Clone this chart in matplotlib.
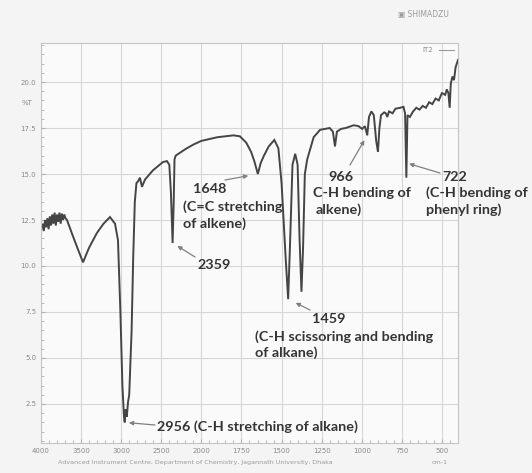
import numpy as np
import matplotlib
matplotlib.use("Agg")
import matplotlib.pyplot as plt
from matplotlib.ticker import FixedLocator, FormatStrFormatter

# FTIR spectrum (wavenumber in cm-1, transmittance in %T)
wavenumber = [
    4000, 3980, 3965, 3950, 3935, 3920, 3905, 3890, 3875, 3860, 3845, 3830,
    3815, 3800, 3785, 3770, 3755, 3740, 3725, 3710, 3695, 3676,
    3600, 3530, 3476, 3400, 3302, 3220, 3140, 3077, 3040,
    3010, 2985, 2965, 2956, 2945, 2930, 2915, 2900, 2870, 2850, 2830, 2810,
    2790, 2766, 2741, 2703, 2604, 2479, 2429, 2400, 2380, 2359, 2345, 2335,
    2320, 2200, 2100, 2000, 1900, 1800, 1760, 1720, 1690, 1670, 1648, 1630,
    1610, 1580, 1545, 1520, 1500, 1475, 1459, 1448, 1432, 1415, 1400, 1388,
    1376, 1366, 1355, 1340, 1300, 1260, 1200, 1180, 1167, 1155, 1130, 1100,
    1050, 1020, 998, 980, 966, 955, 940, 925, 910, 899, 890, 880, 860, 850,
    841, 830, 808, 790, 760, 740, 730, 722, 715, 700, 680, 660, 640, 620,
    600, 580, 560, 540, 520, 500, 480, 470, 460, 452, 445, 435, 425, 415, 400,
]
transmittance = [
    12.0, 12.3, 11.9, 12.5, 12.1, 12.6, 12.0, 12.7, 12.2, 12.8, 12.3, 12.9,
    12.2, 12.8, 12.4, 12.9, 12.3, 12.85, 12.5, 12.8, 12.6, 12.5,
    11.6, 10.8, 10.2, 11.0, 11.8, 12.3, 12.66, 12.3, 11.4,
    7.5, 3.5, 1.8, 1.5, 2.2, 1.8, 2.6, 3.0, 6.5, 10.5, 13.5, 14.5,
    14.6, 14.8, 14.3, 14.7, 15.2, 15.65, 15.7, 15.5, 14.0, 11.25, 13.5, 15.8,
    16.0, 16.35, 16.6, 16.8, 17.0, 17.1, 17.05, 16.7, 16.2, 15.7, 15.0, 15.6,
    16.0, 16.5, 16.85, 16.4, 14.5, 10.5, 8.2, 11.0, 15.5, 16.1, 15.5, 11.5,
    8.6, 11.0, 15.0, 15.8, 17.0, 17.4, 17.5, 17.3, 16.5, 17.3, 17.45, 17.5,
    17.65, 17.6, 17.45, 17.6, 17.1, 18.1, 18.4, 18.2, 16.8, 16.2, 17.5, 18.2,
    18.35, 18.3, 18.1, 18.4, 18.3, 18.55, 18.6, 18.65, 18.3, 14.8, 18.2, 18.1,
    18.4, 18.6, 18.5, 18.7, 18.6, 18.9, 18.8, 19.1, 19.0, 19.4, 19.3, 19.6,
    19.4, 18.6, 19.9, 20.3, 20.1, 20.8, 21.2,
]

x_ticks = [4000, 3500, 3000, 2500, 2000, 1750, 1500, 1250, 1000, 750, 500]
y_ticks = [2.5, 5.0, 7.5, 10.0, 12.5, 15.0, 17.5, 20.0]

# points the peak annotations aim at (wavenumber, %T)
peak_wn = [1648, 2359, 2956, 1459, 966, 722]
peak_t = [15.0, 11.25, 1.5, 8.2, 17.1, 15.6]


def _fwd(w):
    w = np.asarray(w, dtype=float)
    return np.where(w >= 2000, w / 500.0, 4.0 - (2000.0 - w) / 250.0)


def _inv(u):
    u = np.asarray(u, dtype=float)
    return np.where(u >= 4, u * 500.0, 2000.0 - (4.0 - u) * 250.0)


W, H = 532, 473
fig = plt.figure(figsize=(W / 100, H / 100), dpi=100, facecolor="#f4f4f4")
ax = fig.add_axes([41 / W, 1 - 443 / H, (458 - 41) / W, (443 - 43) / H])
ax.set_facecolor("#fafafb")

ax.set_xscale("function", functions=(_fwd, _inv))
ax.set_xlim(4000, 400)
ax.set_ylim(0.38, 22.12)

ax.plot(wavenumber, transmittance, color="#454545", lw=1.4, label="IT2",
        solid_joinstyle="miter")

ax.xaxis.set_major_locator(FixedLocator(x_ticks))
minor_x = list(range(4000, 2000, -100)) + list(range(2000, 399, -50))
ax.xaxis.set_minor_locator(FixedLocator(minor_x))
ax.yaxis.set_major_locator(FixedLocator(y_ticks))
ax.yaxis.set_minor_locator(FixedLocator(list(np.arange(0.5, 22.1, 0.5))))
ax.yaxis.set_major_formatter(FormatStrFormatter("%.1f"))
ax.set_xticklabels([str(t) for t in x_ticks])

ax.grid(True, which="major", color="#d6d6d6", lw=0.8)
for s in ax.spines.values():
    s.set_color("#c4c4c4")
    s.set_linewidth(0.8)
ax.tick_params(which="both", direction="in", colors="#b0b0b0",
               labelcolor="#8a8a8a", labelsize=5)
ax.tick_params(which="major", length=3)
ax.tick_params(which="minor", length=2)

leg = ax.legend(loc="upper right", frameon=False, markerfirst=False,
                fontsize=5, handlelength=2.2, borderaxespad=0.2)
for t in leg.get_texts():
    t.set_color("#8a8a8a")
for l in leg.get_lines():
    l.set_color("#9a9a9a")
    l.set_linewidth(0.8)

fig.text(27 / W, 1 - 103 / H, "%T", fontsize=5, color="#8a8a8a",
         ha="center", va="center")
fig.text(423 / W, 1 - 15 / H, "▣ SHIMADZU", fontsize=5.5, color="#9a9a9a",
         ha="center", va="center")
fig.text(195 / W, 1 - 462 / H,
         "Advanced Instrument Centre, Department of Chemistry, Jagannath University, Dhaka",
         fontsize=4.6, color="#9a9a9a", ha="center", va="center")
fig.text(440 / W, 1 - 462 / H, "cm-1", fontsize=4.6, color="#9a9a9a",
         ha="center", va="center")

font = dict(family=["Lato", "DejaVu Sans"], weight="bold", fontsize=10.4,
            color="#353535", ha="left", va="center")


def label(x, y, s):
    fig.text(x / W, 1 - y / H, s, **font)


label(193, 189, "1648")
label(183, 207, "(C=C stretching")
label(183, 224, "of alkene)")
label(197, 265, "2359")
label(157, 427, "2956 (C-H stretching of alkane)")
label(312, 319, "1459")
label(255, 337, "(C-H scissoring and bending")
label(255, 353, "of alkane)")
label(328, 177, "966")
label(313, 193, "C-H bending of")
label(316, 210, "alkene)")
label(442, 177, "722")
label(426, 193, "(C-H bending of")
label(426, 210, "phenyl ring)")

# arrow tails in figure pixels (top-left origin)
tails = [(225, 180), (195, 257), (155, 425), (310, 310), (350, 165), (440, 173)]
shrink = [7, 4, 3, 6, 4, 2]
for (tx, ty), wn, tv, sb in zip(tails, peak_wn, peak_t, shrink):
    ax.annotate("", xy=(wn, tv), xycoords="data",
                xytext=(tx, H - ty), textcoords="figure pixels",
                arrowprops=dict(arrowstyle="-|>", color="#808080", lw=0.9,
                                mutation_scale=6, shrinkA=0, shrinkB=sb),
                annotation_clip=False)

fig.savefig("out.png", dpi=100, facecolor=fig.get_facecolor())
